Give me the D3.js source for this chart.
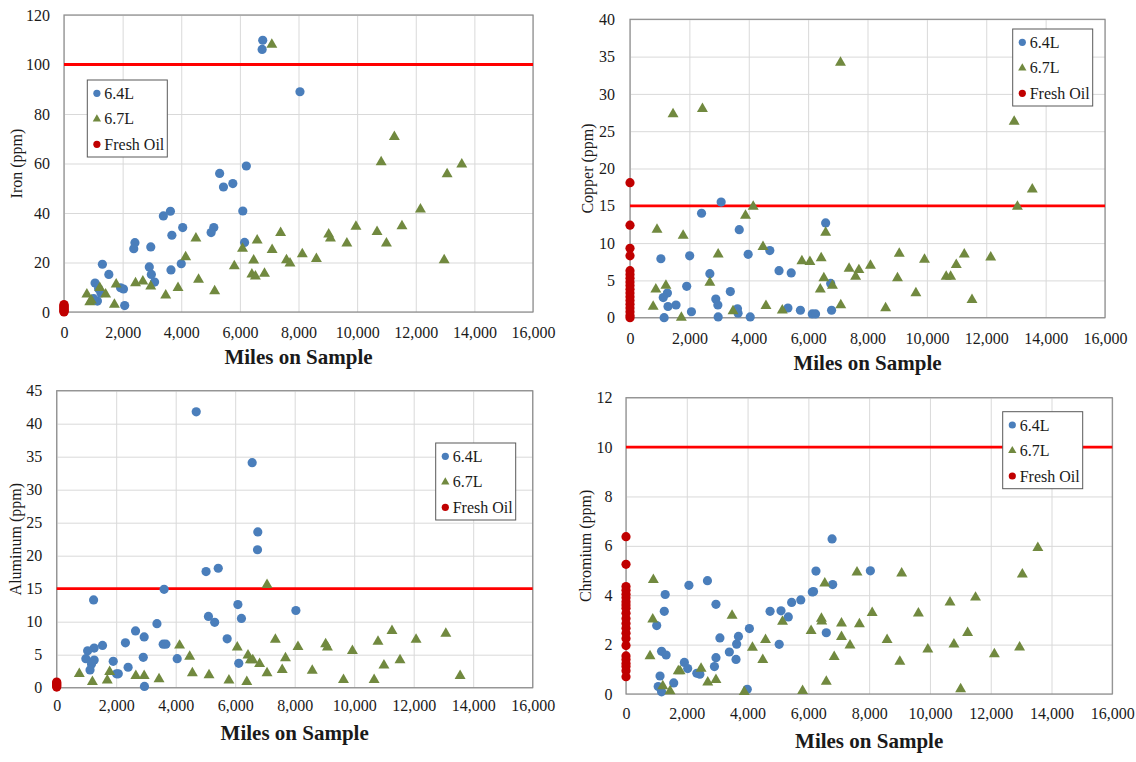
<!DOCTYPE html>
<html><head><meta charset="utf-8">
<script src="https://cdn.jsdelivr.net/npm/d3@7"></script>
<style>body{margin:0;background:#fff;} svg{display:block;}</style>
</head><body>
<svg id="chart" width="1136" height="762"></svg>
<script>
// ---------- DATA ----------
const xTickValues = [0,2000,4000,6000,8000,10000,12000,14000,16000];
const seriesNames = ["6.4L","6.7L","Fresh Oil"];
const yTitles = ["Iron (ppm)","Copper (ppm)","Aluminum (ppm)","Chromium (ppm)"];
const xTitle = "Miles on Sample";
const yMaxes = [120,40,45,12];
const yStepsArr = [20,5,5,2];
const limits = [100,15,15,10];

const iron64 = [[6780,109.8],[6760,106.1],[8050,89.0],[6220,59.0],[5310,56.0],[5440,50.5],[5760,51.9],[6100,40.8],[6160,28.1],[5110,34.1],[5020,32.1],[4050,34.1],[3630,40.7],[3390,38.8],[3680,31.0],[4000,19.5],[3650,17.0],[2420,28.0],[2380,25.6],[2960,26.3],[2910,18.2],[2980,15.2],[3090,12.1],[1310,19.3],[1530,15.2],[1060,11.7],[1180,9.4],[1260,7.7],[1140,4.4],[1010,5.4],[1930,9.8],[2030,9.3],[2070,2.6]];
const iron67 = [[7090,108.0],[780,7.1],[880,4.0],[930,4.7],[1220,9.8],[1420,7.1],[1720,3.0],[1780,11.2],[2440,11.7],[2690,12.4],[2960,10.4],[3470,6.7],[3890,9.8],[4150,22.2],[4500,29.8],[4590,13.1],[5140,8.5],[5810,18.6],[6090,25.6],[6470,20.9],[6410,15.2],[6530,14.4],[6590,29.0],[6840,15.5],[7100,25.1],[7390,32.0],[7590,21.0],[7710,19.7],[8130,23.4],[8610,21.5],[9030,31.4],[9090,29.8],[9650,27.7],[9960,34.5],[10680,32.4],[10820,60.6],[11000,27.7],[11270,70.8],[11530,34.7],[12160,41.5],[12970,21.0],[13070,55.7],[13570,59.7]];
const ironFresh = [0,0.3,0.6,1.0,1.4,1.8,2.2,2.6,3.0];

const copper64 = [[3070,15.5],[2410,14.0],[3680,11.8],[6590,12.7],[4710,9.0],[3980,8.5],[2010,8.3],[1040,7.9],[5020,6.3],[5430,6.0],[2690,5.9],[6760,4.6],[1910,4.2],[3380,3.5],[1260,3.3],[1120,2.7],[2890,2.5],[2960,1.7],[1550,1.7],[1280,1.5],[3620,1.2],[3640,0.6],[5320,1.3],[5740,1.0],[6790,1.0],[2070,0.8],[6140,0.5],[6250,0.5],[2970,0.1],[4050,0.1],[1150,0.0]];
const copper67 = [[7090,34.2],[1450,27.3],[2440,28.0],[4150,14.9],[3890,13.7],[910,11.8],[1790,11.0],[6590,11.4],[4480,9.5],[2970,8.5],[5790,7.6],[6060,7.5],[6440,8.0],[7380,6.6],[7600,5.5],[7710,6.4],[6530,5.3],[2690,4.7],[6410,3.8],[6820,4.3],[870,3.8],[1210,4.3],[780,1.5],[4580,1.6],[7100,1.7],[5130,1.0],[3470,0.9],[1730,0.0],[8100,7.0],[9070,8.6],[9010,5.3],[9630,3.3],[9920,7.8],[8610,1.3],[10650,5.5],[10800,5.5],[10990,7.1],[11260,8.5],[11520,2.4],[12150,8.1],[12940,26.3],[13550,17.2],[13050,14.9]];
const copperFresh = [18.1,12.4,9.3,8.3,6.3,5.8,5.3,4.8,4.3,3.8,3.3,2.8,2.3,1.8,1.3,0.8,0.3,0];

const aluminum64 = [[4690,41.8],[6570,34.1],[6760,23.6],[6750,20.9],[5020,17.6],[5430,18.1],[3610,14.9],[1240,13.3],[6090,12.6],[5100,10.8],[5310,9.9],[6210,10.5],[3370,9.7],[2650,8.6],[2940,7.7],[5730,7.4],[3580,6.6],[3670,6.6],[1540,6.4],[1260,6.0],[1040,5.6],[2310,6.8],[980,4.4],[1260,4.2],[1170,3.6],[1900,4.0],[2910,4.6],[4050,4.4],[6120,3.7],[2400,3.1],[1120,2.7],[2010,2.1],[2070,2.1],[2950,0.2],[8040,11.7]];
const aluminum67 = [[7070,15.6],[7350,7.3],[4130,6.4],[6070,6.1],[4470,4.7],[6430,4.9],[6510,4.2],[6590,4.2],[6820,3.6],[7690,4.5],[7580,2.7],[7070,2.2],[760,2.1],[1780,2.4],[2660,1.8],[2940,1.8],[4560,2.2],[5120,1.9],[1200,0.9],[1700,1.1],[3440,1.3],[5790,1.1],[6390,0.9],[12080,7.3],[13080,8.2],[11270,8.6],[10800,7.0],[11540,4.2],[11000,3.4],[10670,1.2],[13560,1.8],[9940,5.6],[9040,6.6],[9100,6.1],[9640,1.2],[8590,2.6],[8110,6.2]];
const aluminumFresh = [0.1,0.25,0.4,0.55,0.7,0.85];

const chromium64 = [[6780,6.28],[6250,4.98],[6800,4.43],[2680,4.59],[2070,4.40],[1290,4.03],[6130,4.13],[6170,4.15],[5750,3.81],[5450,3.71],[4740,3.35],[5100,3.37],[5340,3.12],[2960,3.63],[1260,3.35],[1010,2.77],[4060,2.65],[6590,2.48],[3700,2.33],[3090,2.27],[3640,2.02],[5040,2.01],[3400,1.70],[1170,1.73],[1320,1.58],[2960,1.47],[3620,1.40],[1920,1.28],[2030,1.03],[2910,1.11],[2330,0.84],[2430,0.80],[1120,0.73],[1570,0.45],[1060,0.30],[1170,0.09],[3990,0.19],[8040,4.99]];
const chromium67 = [[900,4.62],[880,3.02],[790,1.54],[3490,3.18],[1210,0.32],[1450,0.12],[1780,0.93],[1720,0.93],[2470,1.03],[2690,0.47],[2960,0.57],[3890,0.09],[4160,1.88],[4590,2.19],[4500,1.38],[5150,2.93],[5810,0.13],[6090,2.56],[6430,3.05],[6440,2.94],[6540,4.48],[6590,0.50],[6850,1.51],[7090,2.86],[7090,2.32],[7370,1.97],[7600,4.93],[7680,2.83],[9070,4.89],[8100,3.29],[8590,2.19],[9010,1.31],[9620,3.27],[9930,1.81],[10660,3.71],[10790,2.01],[11010,0.20],[11240,2.48],[11500,3.91],[12120,1.62],[12950,1.89],[13040,4.85],[13550,5.92]];
const chromiumFresh = [6.37,5.25,4.35,4.2,4.04,3.9,3.74,3.6,3.47,3.27,3.06,2.86,2.66,2.46,2.25,1.96,1.54,1.4,1.24,1.11,0.94,0.7];

// ---------- LAYOUT ----------
const layouts = [
  {l:64, r:533, t:15, b:312, legX:87.3, legY:80, tickDy:20, yGap:14, xTitleY:357, yTitleX:16},
  {l:630, r:1105, t:19.3, b:317.7, legX:1012.7, legY:29, tickDy:20.5, yGap:15, xTitleY:363, yTitleX:587},
  {l:56.7, r:532.7, t:390.7, b:687.7, legX:435.7, legY:443, tickDy:17.5, yGap:14.5, xTitleY:733, yTitleX:15},
  {l:626, r:1112.3, t:397.7, b:694, legX:1002.7, legY:411.7, tickDy:19.5, yGap:13.5, xTitleY:741, yTitleX:585}
];
const s64 = [iron64, copper64, aluminum64, chromium64];
const s67 = [iron67, copper67, aluminum67, chromium67];
const sFresh = [ironFresh, copperFresh, aluminumFresh, chromiumFresh];

const C64 = "#4a7ebb", C67 = "#71893f", CFRESH = "#c00000", CLIMIT = "#ff0000";
const FONT = "'Liberation Serif','Times New Roman',serif";

const svg = d3.select("#chart");

function drawPanel(i) {
  const p = layouts[i];
  const g = svg.append("g");
  const x = d3.scaleLinear().domain([0,16000]).range([p.l,p.r]);
  const y = d3.scaleLinear().domain([0,yMaxes[i]]).range([p.b,p.t]);
  const yTicks = d3.range(0, yMaxes[i] + 1e-9, yStepsArr[i]);

  // gridlines
  g.append("g").attr("transform",`translate(0,${p.b})`)
    .call(d3.axisBottom(x).tickValues(xTickValues).tickSize(-(p.b-p.t)).tickFormat(""))
    .call(a=>a.select(".domain").remove())
    .selectAll("line").attr("stroke","#d9d9d9").attr("stroke-width",1);
  g.append("g").attr("transform",`translate(${p.l},0)`)
    .call(d3.axisLeft(y).tickValues(yTicks).tickSize(-(p.r-p.l)).tickFormat(""))
    .call(a=>a.select(".domain").remove())
    .selectAll("line").attr("stroke","#d9d9d9").attr("stroke-width",1);

  // plot border
  g.append("rect").attr("x",p.l).attr("y",p.t).attr("width",p.r-p.l).attr("height",p.b-p.t)
    .attr("fill","none").attr("stroke","#8c8c8c").attr("stroke-width",1.2);

  // axis labels
  const xa = g.append("g").attr("transform",`translate(0,${p.b})`)
    .call(d3.axisBottom(x).tickValues(xTickValues).tickSize(0).tickPadding(p.tickDy-5.7).tickFormat(d3.format(",")));
  xa.select(".domain").remove();
  xa.selectAll("text").attr("font-family",FONT).attr("font-size",16).attr("fill","#1a1a1a");
  const ya = g.append("g").attr("transform",`translate(${p.l},0)`)
    .call(d3.axisLeft(y).tickValues(yTicks).tickSize(0).tickPadding(p.yGap).tickFormat(d3.format("d")));
  ya.select(".domain").remove();
  ya.selectAll("text").attr("font-family",FONT).attr("font-size",16).attr("fill","#1a1a1a");

  // limit line
  g.append("line").attr("x1",p.l).attr("x2",p.r).attr("y1",y(limits[i])).attr("y2",y(limits[i]))
    .attr("stroke",CLIMIT).attr("stroke-width",2.8);

  // 6.4L circles
  g.append("g").selectAll("circle").data(s64[i]).join("circle")
    .attr("cx",d=>x(d[0])).attr("cy",d=>y(d[1])).attr("r",4.6).attr("fill",C64);
  // 6.7L triangles
  const tri = d3.symbol(d3.symbolTriangle, 52);
  g.append("g").selectAll("path").data(s67[i]).join("path")
    .attr("d",tri).attr("transform",d=>`translate(${x(d[0])},${y(d[1])})`).attr("fill",C67);
  // Fresh oil
  g.append("g").selectAll("circle").data(sFresh[i]).join("circle")
    .attr("cx",x(0)).attr("cy",d=>y(d)).attr("r",4.6).attr("fill",CFRESH);

  // titles
  g.append("text").attr("x",(p.l+p.r)/2).attr("y",p.xTitleY).attr("dy","0.35em")
    .attr("text-anchor","middle").attr("font-family",FONT).attr("font-weight","bold")
    .attr("font-size",21).attr("fill","#1a1a1a").text(xTitle);
  g.append("text").attr("transform",`translate(${p.yTitleX},${(p.t+p.b)/2}) rotate(-90)`)
    .attr("dy","0.35em").attr("text-anchor","middle").attr("font-family",FONT)
    .attr("font-size",16).attr("fill","#1a1a1a").text(yTitles[i]);

  // legend
  const lg = g.append("g").attr("transform",`translate(${p.legX},${p.legY})`);
  lg.append("rect").attr("width",80).attr("height",77).attr("fill","#fff")
    .attr("stroke","#595959").attr("stroke-width",1);
  const rowsY = [13.3,38.5,64.3];
  const colors = [C64,C67,CFRESH];
  seriesNames.forEach((nm,k)=>{
    if (k===1) {
      lg.append("path").attr("d",d3.symbol(d3.symbolTriangle,30)).attr("transform",`translate(9.6,${rowsY[k]+0.5})`).attr("fill",colors[k]);
    } else {
      lg.append("circle").attr("cx",9.6).attr("cy",rowsY[k]).attr("r",3.6).attr("fill",colors[k]);
    }
    lg.append("text").attr("x",17).attr("y",rowsY[k]).attr("dy","0.35em").attr("font-family",FONT)
      .attr("font-size",16).attr("fill","#1a1a1a").text(nm);
  });
}

for (let i=0;i<4;i++) drawPanel(i);
</script>
</body></html>
